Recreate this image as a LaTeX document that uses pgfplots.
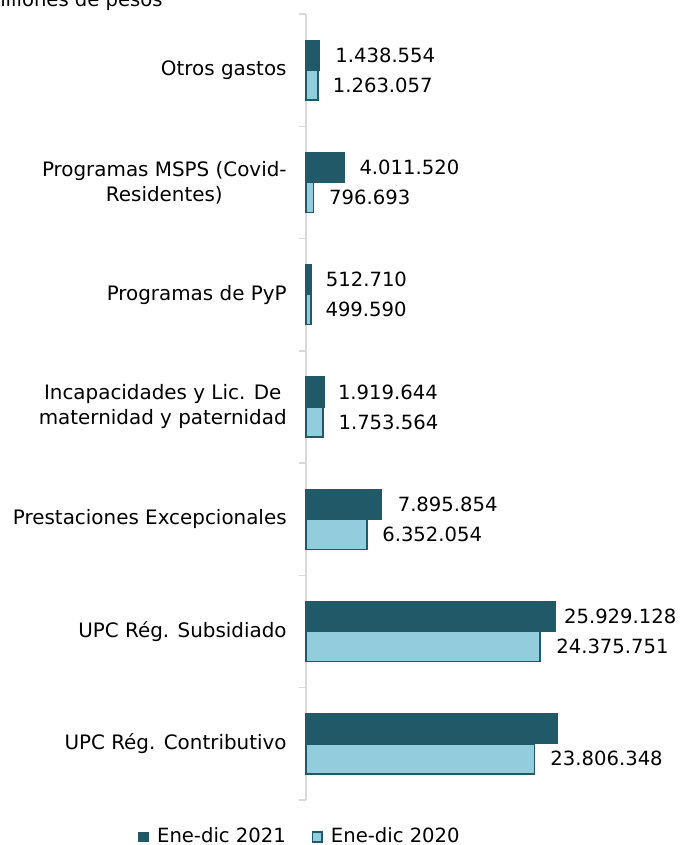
\documentclass[border=0pt]{standalone}
\usepackage{fontspec}
\setmainfont{DejaVu Sans}
\usepackage{pgfplots}
\pgfplotsset{compat=1.18}
\usepackage{pgfplotstable}
\definecolor{darkc}{HTML}{215968}
\definecolor{lightc}{HTML}{93CDDD}
\definecolor{axgray}{HTML}{D9D9D9}
\newcommand{\fs}{\fontsize{9.8pt}{12.5pt}\selectfont}
\newcommand{\fc}{\fontsize{9.95pt}{12.5pt}\selectfont}

% 2021 series
\pgfplotstableread{
y x lbl gap
0 26210000 {} 7.5
1 25929128 25.929.128 4.3
2 7895854 7.895.854 7.7
3 1919644 1.919.644 6.5
4 512710 512.710 7.2
5 4011520 4.011.520 7.2
6 1438554 1.438.554 7.5
}\tabA
% 2020 series
\pgfplotstableread{
y x lbl gap
0 23806348 23.806.348 7.6
1 24375751 24.375.751 7.8
2 6352054 6.352.054 7.3
3 1753564 1.753.564 7.5
4 499590 499.590 7.0
5 796693 796.693 7.4
6 1263057 1.263.057 7.0
}\tabB

\begin{document}
\begin{tikzpicture}
\begin{axis}[
  xbar, scale only axis, width=129.6pt, height=393pt,
  xmin=0, xmax=27000000, ymin=-0.5, ymax=6.5,
  axis y line*=left, axis x line=none,
  y axis line style={draw=axgray, line width=0.75pt, -},
  ytick={0,...,6},
  yticklabels={{UPC Rég. Contributivo},{UPC Rég. Subsidiado},{Prestaciones Excepcionales},{Incapacidades y Lic. De\\maternidad y paternidad},{Programas de PyP},{Programas MSPS (Covid-\\Residentes)},{Otros gastos}},
  minor ytick={-0.5,0.5,...,6.5},
  major tick length=0pt, minor tick length=3.5pt, tick align=outside,
  every tick/.style={draw=axgray, line width=0.75pt},
  every minor tick/.style={draw=axgray, line width=0.75pt},
  yticklabel style={font=\fc, align=center, inner sep=0pt, xshift=-9.5pt, text=black},
  bar width=15pt,
  clip=false,
  point meta=explicit symbolic,
  nodes near coords,
  visualization depends on={\thisrow{gap}\as\gap},
  nodes near coords style={font=\fs, anchor=west, inner sep=0pt, xshift=\gap pt, text=black},
  legend style={at={(-0.0193,-0.0471)}, anchor=center, draw=none, fill=none,
    legend columns=-1, font=\fs, inner sep=0pt,
    /tikz/every odd column/.append style={column sep=2pt},
    /tikz/every even column/.append style={column sep=11pt}},
  legend image code/.code={\draw[#1] (0pt,-2.4pt) rectangle (4.8pt,2.4pt);},
]
\addplot[fill=darkc, draw=darkc, line width=0.6pt, bar shift=7.5pt] table[x=x,y=y,meta=lbl]{\tabA};
\addplot[fill=lightc, draw=darkc, line width=0.75pt, bar shift=-7.5pt] table[x=x,y=y,meta=lbl]{\tabB};
\legend{Ene-dic 2021, Ene-dic 2020}
\end{axis}
\node[anchor=base east, inner sep=0pt, font=\fs] at (-71.5pt,396.5pt) {millones de pesos};
\pgfresetboundingbox
\path[use as bounding box] (-153pt,-22.5pt) rectangle (187.5pt,400pt);
\end{tikzpicture}
\end{document}
